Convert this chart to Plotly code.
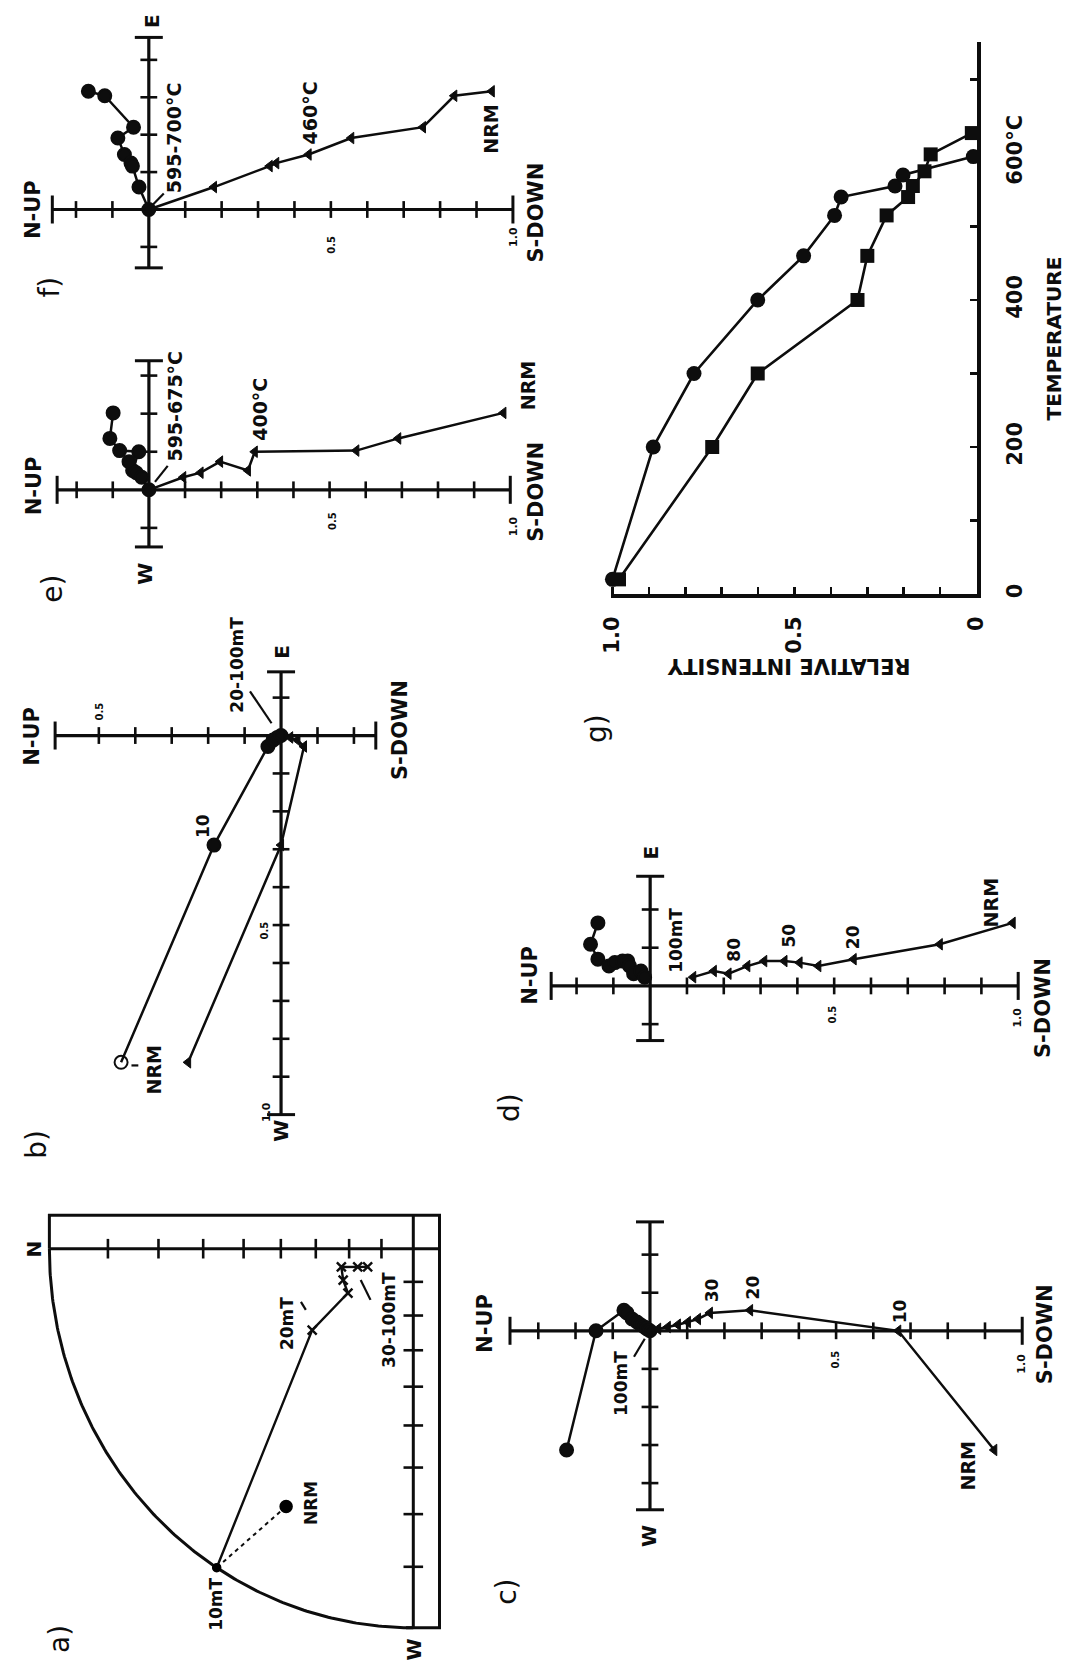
import numpy as np
import plotly.graph_objects as go

W, H = 1078, 1665
K = "#0d0d0d"
FONT = "DejaVu Sans"

# ---------------- data ----------------
# a) AF demagnetisation, equal-angle stereonet (declination, inclination)
a_dec = [297.2, 302.7, 322.3, 326.9, 336.7, 346.3, 342.5, 339.1]
a_inc = [15.2, 0.0, -51.3, -65.8, -66.3, -67.0, -71.8, -74.7]
a_tick_inc = [10, 20, 30, 40, 50, 60, 70, 80]

# b) AF Zijderveld (E-W shared, N-S horizontal, up-down vertical projection)
b_ew = [-0.862, -0.289, -0.029, -0.012, -0.005, 0.0]
b_ns = [-0.439, -0.184, -0.036, -0.022, -0.010, 0.0]
b_ud = [-0.255, 0.000, 0.063, 0.045, 0.025, 0.0]

# c) AF Zijderveld
c_ew = [-0.313, 0.000, 0.054, 0.047, 0.031, 0.023, 0.016, 0.010, 0.005, 0.0]
c_ns = [-0.224, -0.145, -0.070, -0.062, -0.048, -0.035, -0.025, -0.015, -0.008, 0.0]
c_ud = [0.925, 0.667, 0.269, 0.161, 0.129, 0.102, 0.075, 0.048, 0.022, 0.0]

# d) AF Zijderveld
d_ew = [0.165, 0.109, 0.070, 0.052, 0.061, 0.065, 0.065, 0.052, 0.032, 0.039, 0.023]
d_ns = [-0.142, -0.162, -0.142, -0.112, -0.096, -0.075, -0.061, -0.056, -0.045, -0.025, -0.015]
d_ud = [0.985, 0.787, 0.553, 0.457, 0.406, 0.365, 0.310, 0.264, 0.213, 0.173, 0.117]

# e) thermal Zijderveld
e_ew = [0.202, 0.135, 0.103, 0.100, 0.051, 0.074, 0.045, 0.033, 0.0]
e_ns = [-0.099, -0.108, -0.081, -0.028, -0.045, -0.055, -0.035, -0.020, 0.0]
e_ud = [0.981, 0.690, 0.574, 0.293, 0.274, 0.197, 0.143, 0.095, 0.0]

# f) thermal Zijderveld
f_ew = [0.316, 0.304, 0.220, 0.191, 0.147, 0.124, 0.116, 0.060, 0.0]
f_ns = [-0.166, -0.121, -0.042, -0.085, -0.067, -0.049, -0.045, -0.027, 0.0]
f_ud = [0.942, 0.839, 0.753, 0.556, 0.439, 0.350, 0.332, 0.179, 0.0]

# g) thermal decay of relative intensity
g_temp_circ = [20, 200, 300, 400, 460, 515, 540, 555, 570, 595]
g_int_circ = [1.0, 0.888, 0.776, 0.601, 0.475, 0.390, 0.372, 0.224, 0.202, 0.009]
g_temp_sq = [20, 200, 300, 400, 460, 515, 540, 555, 575, 598, 627]
g_int_sq = [0.982, 0.726, 0.601, 0.327, 0.300, 0.247, 0.188, 0.175, 0.143, 0.126, 0.013]
g_int_ticks = [0, 0.1, 0.2, 0.3, 0.4, 0.5, 0.6, 0.7, 0.8, 0.9, 1.0]
g_int_text = ["0", "", "", "", "", "0.5", "", "", "", "", "1.0"]
g_temp_ticks = [0, 100, 200, 300, 400, 500, 600, 700]
g_temp_text = ["0", "", "200", "", "400", "", "600°C", ""]

# ---------------- helpers ----------------
fig = go.Figure()
axes = {}
ann = []
shapes = []


def make_axes(n, box, origin, sx, sy):
    x0, y0, x1, y1 = box
    ox, oy = origin
    s = "" if n == 1 else str(n)
    axes["xaxis" + s] = dict(domain=[x0 / W, x1 / W], range=[(x0 - ox) / sx, (x1 - ox) / sx],
                             visible=False, fixedrange=True, anchor="y" + s)
    axes["yaxis" + s] = dict(domain=[1 - y1 / H, 1 - y0 / H], range=[(oy - y1) / sy, (oy - y0) / sy],
                             visible=False, fixedrange=True, anchor="x" + s)
    return "x" + s, "y" + s


def add(ax, **kw):
    fig.add_trace(go.Scatter(xaxis=ax[0], yaxis=ax[1], showlegend=False, opacity=1,
                             hoverinfo="skip", cliponaxis=False, **kw))


def tickmarks(lim, tol=0.02):
    vals = np.round(np.arange(-1.0, 1.0001, 0.1), 1)
    return [float(v) for v in vals if lim[0] + tol < v < lim[1] - tol and abs(v) > 1e-9]


def mk(sym, sz, w=2.6):
    return dict(symbol=sym, size=sz, color=K, opacity=1, line=dict(width=w, color=K))


def zij_frame(ax, xlim, ylim, tick=12, cap=20, lw=3.2):
    add(ax, x=list(xlim), y=[0, 0], mode="lines", line=dict(color=K, width=lw))
    add(ax, x=[0, 0], y=list(ylim), mode="lines", line=dict(color=K, width=lw))
    xt = tickmarks(xlim)
    yt = tickmarks(ylim)
    add(ax, x=xt, y=[0] * len(xt), mode="markers", marker=mk("line-ns", tick))
    add(ax, x=list(xlim), y=[0, 0], mode="markers", marker=mk("line-ns", cap, 3))
    add(ax, x=[0] * len(yt), y=yt, mode="markers", marker=mk("line-ew", tick))
    add(ax, x=[0, 0], y=list(ylim), mode="markers", marker=mk("line-ew", cap, 3))


def zij_data(ax, ns, ew, ud, csym="circle", csize=13, tsize=10, lw=2.5):
    add(ax, x=ns, y=ew, mode="lines+markers", line=dict(color=K, width=lw),
        marker=dict(symbol=csym, size=csize, color=K, opacity=1, line=dict(width=2, color=K)))
    add(ax, x=ud, y=ew, mode="lines+markers", line=dict(color=K, width=lw),
        marker=dict(symbol="triangle-left", size=tsize, color=K, opacity=1, line=dict(width=1, color=K)))


def text(s, x, y, size=19, angle=-90, weight="bold"):
    ann.append(dict(x=x / W, y=1 - y / H, xref="paper", yref="paper", text=s, showarrow=False,
                    textangle=angle, xanchor="center", yanchor="middle",
                    font=dict(family=FONT, size=size, color=K, weight=weight)))


def panel_label(s, x, y):
    text(s, x, y, 28, weight="normal")


def seg(x0, y0, x1, y1, w=2.2):
    shapes.append(dict(type="line", xref="paper", yref="paper",
                       x0=x0 / W, y0=1 - y0 / H, x1=x1 / W, y1=1 - y1 / H,
                       line=dict(color=K, width=w)))


AXT = 21   # N-UP / S-DOWN
DIR = 20   # E / W
LBL = 19   # temperature / NRM labels
STEP = 17  # step labels

# ---------------- f ----------------
axf = make_axes(1, (0, 0, 560, 300), (141.7, 210), 371.7, 375)
zij_frame(axf, (-0.265, 1.0), (-0.156, 0.46))
zij_data(axf, f_ns, f_ew, f_ud)
panel_label("f)", 40, 288)
text("N-UP", 24, 210, AXT)
text("S-DOWN", 537, 213, AXT)
text("E", 145, 21, DIR)
text("595-700°C", 167, 138, LBL)
seg(146, 205, 157, 194)
text("460°C", 306, 113, LBL)
text("NRM", 491, 129, LBL)
text("0.5", 328, 245, 10)
text("1.0", 514, 238, 11)

# ---------------- e ----------------
axe = make_axes(2, (0, 300, 560, 620), (141.8, 491), 368.9, 381.7)
zij_frame(axe, (-0.254, 1.0), (-0.150, 0.339))
zij_data(axe, e_ns, e_ew, e_ud)
panel_label("e)", 43, 590)
text("N-UP", 24, 487, AXT)
text("S-DOWN", 537, 493, AXT)
text("W", 137, 575, DIR)
text("595-675°C", 168, 407, LBL)
seg(148, 483, 161, 467)
text("400°C", 255, 410, LBL)
text("NRM", 529, 387, LBL)
text("0.5", 329, 522, 10)
text("1.0", 514, 528, 11)

# ---------------- b ----------------
axb = make_axes(3, (0, 620, 440, 1180), (276.7, 737.3), 372, 380)
zij_frame(axb, (-0.62, 0.26), (-1.0, 0.168))
zij_data(axb, b_ns, b_ew, b_ud, csym=["circle-open"] + ["circle"] * (len(b_ns) - 1))
panel_label("b)", 27, 1147)
text("N-UP", 23, 738, AXT)
text("S-DOWN", 398, 732, AXT)
text("E", 278, 653, DIR)
text("W", 277, 1133, DIR)
text("20-100mT", 232, 666, STEP)
seg(245, 693, 267, 725)
text("10", 197, 828, STEP)
text("NRM", 147, 1073, LBL)
seg(124, 1068, 131, 1068)
text("0.5", 91, 713, 10)
text("0.5", 260, 933, 10)
text("1.0", 262, 1115, 11)

# ---------------- a ----------------
axa = make_axes(4, (0, 1180, 460, 1665), (411.7, 1251.7), 371.5, 380)
FR_TOP, FR_RIGHT = 0.088, 0.072
t = np.linspace(0, np.pi / 2, 181)
add(axa, x=list(-np.cos(t)), y=list(-np.sin(t)), mode="lines", line=dict(color=K, width=3))
add(axa, x=[-1, -1, FR_RIGHT, FR_RIGHT, -0.02], y=[0, FR_TOP, FR_TOP, -1, -1], mode="lines",
    line=dict(color=K, width=3))
add(axa, x=[-1, FR_RIGHT], y=[0, 0], mode="lines", line=dict(color=K, width=3))
add(axa, x=[0, 0], y=[FR_TOP, -1], mode="lines", line=dict(color=K, width=3))
r_t = np.tan(np.radians((90 - np.array(a_tick_inc)) / 2))
add(axa, x=list(-r_t), y=[0] * len(r_t), mode="markers", marker=mk("line-ns", 14))
add(axa, x=[0] * len(r_t), y=list(-r_t), mode="markers", marker=mk("line-ew", 14))
dec = np.radians(np.array(a_dec))
inc = np.array(a_inc)
r = np.tan(np.radians((90 - np.abs(inc)) / 2))
pa_x = [float(v) for v in -r * np.cos(dec)]
pa_y = [float(v) for v in r * np.sin(dec)]
add(axa, x=pa_x[:2], y=pa_y[:2], mode="lines", line=dict(color=K, width=2, dash="4px,4px"))
add(axa, x=pa_x[1:], y=pa_y[1:], mode="lines", line=dict(color=K, width=2.4))
down = [i for i, v in enumerate(a_inc) if v >= 0]
up = [i for i, v in enumerate(a_inc) if v < 0]
add(axa, x=[pa_x[i] for i in down], y=[pa_y[i] for i in down], mode="markers",
    marker=dict(symbol="circle", size=[12 if a_inc[i] > 0 else 8 for i in down], color="black",
                opacity=1, line=dict(width=1.5, color="black")))
add(axa, x=[pa_x[i] for i in up], y=[pa_y[i] for i in up], mode="markers",
    marker=dict(symbol="x-thin", size=9, color=K, opacity=1, line=dict(width=2.4, color=K)))
panel_label("a)", 50, 1643)
text("N", 25, 1252, DIR)
text("W", 412, 1654, DIR)
text("10mT", 210, 1608, STEP)
text("NRM", 308, 1507, STEP)
text("20mT", 283, 1327, STEP)
seg(297, 1305, 302, 1313)
text("30-100mT", 387, 1323, STEP)
seg(358, 1283, 368, 1303)

# ---------------- c ----------------
axc = make_axes(5, (440, 1150, 1078, 1665), (653.3, 1334), 380, 381.7)
zij_frame(axc, (-0.376, 1.0), (-0.470, 0.286))
zij_data(axc, c_ns, c_ew, c_ud)
panel_label("c)", 507, 1596)
text("N-UP", 485, 1327, AXT)
text("S-DOWN", 1056, 1337, AXT)
text("W", 653, 1540, DIR)
text("NRM", 978, 1470, LBL)
text("10", 908, 1314, STEP)
text("20", 758, 1291, STEP)
text("30", 717, 1293, STEP)
text("100mT", 623, 1387, STEP)
seg(637, 1360, 648, 1342)
text("0.5", 843, 1363, 10)
text("1.0", 1033, 1367, 11)

# ---------------- d ----------------
axd = make_axes(6, (460, 800, 1078, 1150), (653.5, 988.3), 375.7, 383)
zij_frame(axd, (-0.269, 1.0), (-0.143, 0.287))
zij_data(axd, d_ns, d_ew, d_ud)
panel_label("d)", 510, 1110)
text("N-UP", 530, 978, AXT)
text("S-DOWN", 1054, 1010, AXT)
text("E", 654, 855, DIR)
text("NRM", 1001, 905, LBL)
text("20", 860, 939, STEP)
text("50", 795, 938, STEP)
text("80", 739, 952, STEP)
text("100mT", 680, 943, STEP)
text("0.5", 840, 1017, 10)
text("1.0", 1029, 1020, 11)

# ---------------- g ----------------
I0_PX, T0_PX, SX_G = 986.7, 595.5, 371.7
tick_font = dict(family=FONT, size=21, color=K, weight="bold")
axes["xaxis7"] = dict(domain=[(I0_PX - 1.005 * SX_G) / W, I0_PX / W], range=[1.005, 0], anchor="y7",
                      showline=True, linewidth=4, linecolor=K, ticks="inside", ticklen=7, tickwidth=2.5,
                      tickcolor=K, tickvals=g_int_ticks, ticktext=g_int_text, tickangle=-90,
                      tickfont=tick_font, showgrid=False, zeroline=False, fixedrange=True,
                      ticklabelstandoff=10)
axes["yaxis7"] = dict(domain=[1 - T0_PX / H, 1 - 42 / H], range=[0, 751], anchor="x7", side="right",
                      showline=True, linewidth=4, linecolor=K, ticks="inside", ticklen=7, tickwidth=2.5,
                      tickcolor=K, tickvals=g_temp_ticks, ticktext=g_temp_text, tickangle=-90,
                      tickfont=tick_font, showgrid=False, zeroline=False, fixedrange=True,
                      ticklabelstandoff=16)
axg = ("x7", "y7")
add(axg, x=g_int_circ, y=g_temp_circ, mode="lines+markers", line=dict(color=K, width=2.6),
    marker=dict(symbol="circle", size=15, color=K))
add(axg, x=g_int_sq, y=g_temp_sq, mode="lines+markers", line=dict(color=K, width=2.6),
    marker=dict(symbol="square", size=14, color=K))
text("TEMPERATURE", 1066, 339, 20)
text("RELATIVE INTENSITY", 795, 667, 21, angle=180)
panel_label("g)", 598, 730)

fig.update_layout(width=W, height=H, margin=dict(l=0, r=0, t=0, b=0), autosize=False,
                  paper_bgcolor="white", plot_bgcolor="rgba(0,0,0,0)",
                  annotations=ann, shapes=shapes, showlegend=False, **axes)

fig.write_html("out.html", config={"displayModeBar": False, "staticPlot": True},
               post_script="document.body.style.margin='0px';")
